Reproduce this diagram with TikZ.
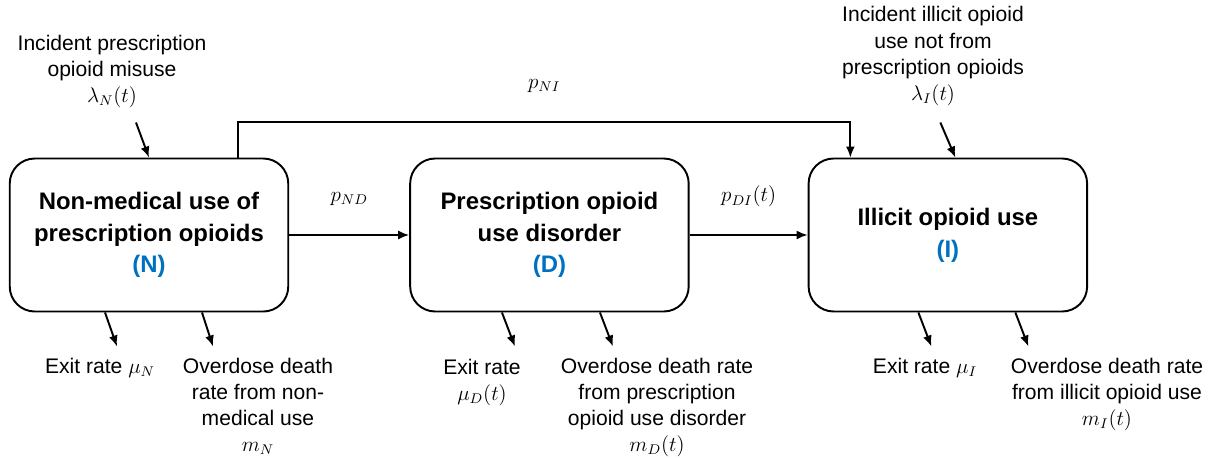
\documentclass[tikz,border=0pt]{standalone}
\usepackage{amsmath}
\usepackage{fontspec}
\setmainfont{Liberation Sans}
\usetikzlibrary{positioning,arrows.meta}
\definecolor{stateblue}{RGB}{0,112,192}

\begin{document}
\begin{tikzpicture}[line width=1.1pt,>={Latex[length=2.2mm,width=1.8mm]},
  font=\fontsize{12}{14.8}\selectfont,
  state/.style={draw,rounded corners=0.5cm,minimum width=5.57cm,minimum height=3.06cm,
    align=center,font=\fontsize{13.6}{18}\selectfont\bfseries},
  lbl/.style={align=center},
  tag/.style={text=stateblue}]

  \useasboundingbox (0,0) rectangle (24.3,-9.2);

  \node[state] (nbox) at (2.98,-4.7) {Non-medical use of\\prescription opioids\\\textcolor{stateblue}{(N)}};
  \node[state,right=2.4cm of nbox] (dbox) {Prescription opioid\\use disorder\\\textcolor{stateblue}{(D)}};
  \node[state,right=2.36cm of dbox] (ibox) {Illicit opioid use\\\textcolor{stateblue}{(I)}};

  % transitions between states
  \draw[->] (nbox) -- (dbox) node[midway,above=0.45cm] {$p_{ND}$};
  \draw[->] (dbox) -- (ibox) node[midway,above=0.42cm] {$p_{DI}(t)$};
  \draw[->] ([xshift=1.78cm]nbox.north) -- ++(0,0.72) -| ([xshift=-1.95cm]ibox.north)
    node[pos=0.25,above=0.45cm] {$p_{NI}$};

  % incidence
  \node[lbl] (lamn) at (2.24,-1.42) {Incident prescription\\opioid misuse\\$\lambda_N(t)$};
  \node[lbl] (lami) at (18.66,-1.12) {Incident illicit opioid\\use not from\\prescription opioids\\$\lambda_I(t)$};
  \coordinate (lamnin) at ([shift={(-0.26,0.7)}]nbox.north);
  \coordinate (lamiin) at ([shift={(-0.15,0.7)}]ibox.north);
  \draw[->] (lamnin) -- (nbox.north);
  \draw[->] (lamiin) -- ([xshift=0.15cm]ibox.north);

  % exits and overdose deaths
  \coordinate (nexit) at ([shift={(-0.64,-0.68)}]nbox.south);
  \coordinate (nod) at ([shift={(1.28,-0.68)}]nbox.south);
  \coordinate (dexit) at ([shift={(-0.69,-0.68)}]dbox.south);
  \coordinate (dod) at ([shift={(1.27,-0.68)}]dbox.south);
  \coordinate (iexit) at ([shift={(-0.33,-0.68)}]ibox.south);
  \coordinate (iod) at ([shift={(1.61,-0.68)}]ibox.south);
  \draw[->] ([xshift=-0.88cm]nbox.south) -- (nexit);
  \draw[->] ([xshift=1.06cm]nbox.south) -- (nod);
  \draw[->] ([xshift=-0.95cm]dbox.south) -- (dexit);
  \draw[->] ([xshift=1.01cm]dbox.south) -- (dod);
  \draw[->] ([xshift=-0.59cm]ibox.south) -- (iexit);
  \draw[->] ([xshift=1.35cm]ibox.south) -- (iod);

  \node[lbl] (nexitlbl) at (2.0,-7.36) {Exit rate $\mu_N$};
  \node[lbl] (nodlbl) at (5.16,-8.12) {Overdose death\\rate from non-\\medical use\\$m_N$};
  \node[lbl] (dexitlbl) at (9.64,-7.64) {Exit rate\\$\mu_D(t)$};
  \node[lbl] (dodlbl) at (13.14,-8.14) {Overdose death rate\\from prescription\\opioid use disorder\\$m_D(t)$};
  \node[lbl] (iexitlbl) at (18.5,-7.36) {Exit rate $\mu_I$};
  \node[lbl] (iodlbl) at (22.14,-7.88) {Overdose death rate\\from illicit opioid use\\$m_I(t)$};

\end{tikzpicture}
\end{document}
